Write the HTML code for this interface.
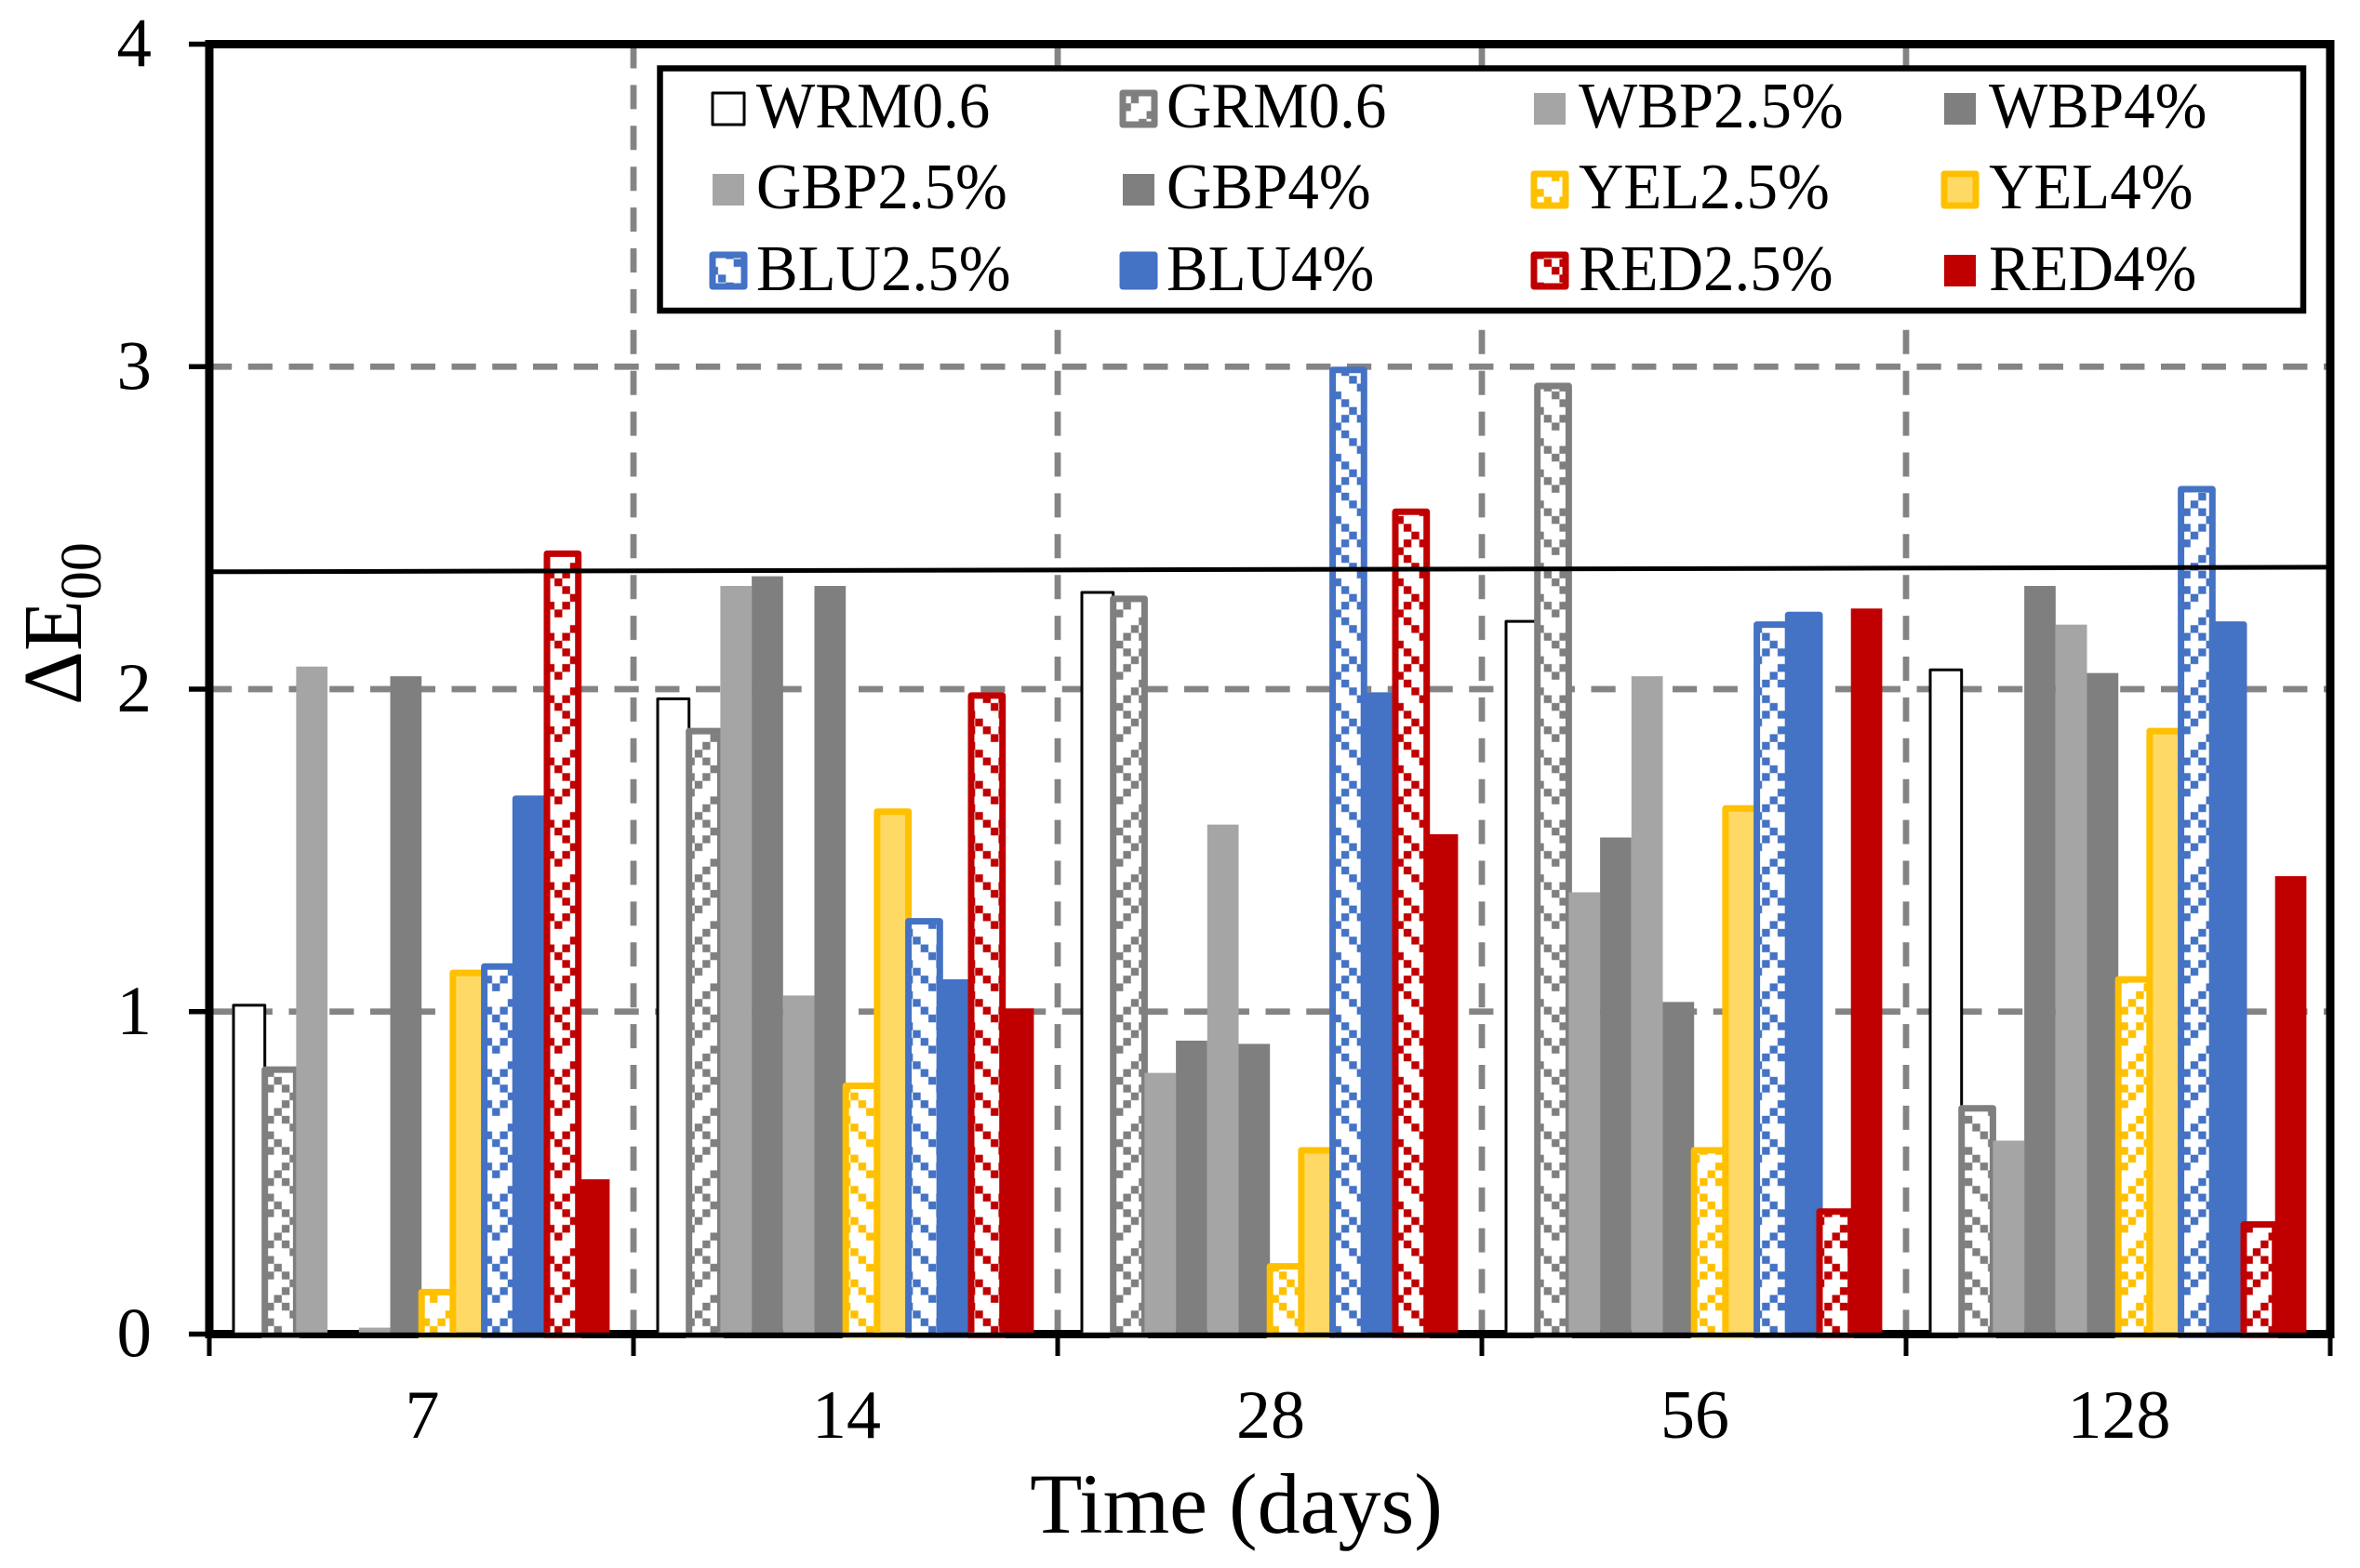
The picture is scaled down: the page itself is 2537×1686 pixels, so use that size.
<!DOCTYPE html>
<html>
<head>
<meta charset="utf-8">
<title>Delta E00 over time</title>
<style>
html,body{margin:0;padding:0;background:#fff;}
svg{display:block;position:absolute;left:0;top:0;}
text{font-family:"Liberation Serif",serif;fill:#000;}
</style>
</head>
<body>
<svg id="chart" xmlns="http://www.w3.org/2000/svg" width="2537" height="1686" viewBox="0 0 2537 1686">
<rect x="0" y="0" width="2537" height="1686" fill="#ffffff"/>
<defs id="defs"></defs>
<g id="grid"></g>
<g id="axes"></g>
<g id="bars"></g>
<g id="threshold"></g>
<g id="labels"></g>
<text x="1329" y="1648" font-size="92" text-anchor="middle">Time (days)</text>
<text transform="translate(87,758) rotate(-90)" font-size="90">ΔE<tspan font-size="62" dy="21">00</tspan></text>
<g id="legend"></g>
</svg>
<script>
// ---- chart data ----
const categories = ["7", "14", "28", "56", "128"];
const yTickLabels = [0, 1, 2, 3, 4];
const seriesNames = ["WRM0.6","GRM0.6","WBP2.5%","WBP4%","GBP2.5%","GBP4%","YEL2.5%","YEL4%","BLU2.5%","BLU4%","RED2.5%","RED4%"];
const wrm06  = [1.02, 1.97, 2.30, 2.21, 2.06];
const grm06  = [0.82, 1.87, 2.28, 2.94, 0.70];
const wbp25  = [2.07, 2.32, 0.81, 1.37, 0.60];
const wbp4   = [0.00, 2.35, 0.91, 1.54, 2.32];
const gbp25  = [0.02, 1.05, 1.58, 2.04, 2.20];
const gbp4   = [2.04, 2.32, 0.90, 1.03, 2.05];
const yel25  = [0.13, 0.77, 0.21, 0.57, 1.10];
const yel4   = [1.12, 1.62, 0.57, 1.63, 1.87];
const blu25  = [1.14, 1.28, 2.99, 2.20, 2.62];
const blu4   = [1.66, 1.09, 1.98, 2.23, 2.20];
const red25  = [2.42, 1.98, 2.55, 0.38, 0.34];
const red4   = [0.48, 1.01, 1.55, 2.25, 1.42];
const thresholdValues = [2.364, 2.378];

const seriesValues = [wrm06, grm06, wbp25, wbp4, gbp25, gbp4, yel25, yel4, blu25, blu4, red25, red4];

// ---- appearance ----
const GRAY='#7f7f7f', LIGHT='#a5a5a5', YEL='#ffc000', BLU='#4472c4', RED='#c00000';
const seriesStyles = [
  {fill:'#ffffff', stroke:'#000000', sw:3},
  {hatch:GRAY, stroke:GRAY, sw:7},
  {fill:LIGHT},
  {fill:GRAY},
  {fill:LIGHT},
  {fill:GRAY},
  {hatch:YEL, stroke:YEL, sw:7},
  {fill:'#ffd966', stroke:YEL, sw:7},
  {hatch:BLU, stroke:BLU, sw:7},
  {fill:BLU, stroke:BLU, sw:7},
  {hatch:RED, stroke:RED, sw:7},
  {fill:RED}
];
const tileRows = [".#.#....","#...#...",".#...#.#","..#...#.",".#.#...#","#...#...","...#.#.#","..#...#."];

// ---- axis functions ----
const plotLeft=225, plotRight=2505, plotTop=47.5, plotBottom=1434.5;
const yMax=4;
const catWidth=(plotRight-plotLeft)/categories.length;
const barWidth=33.7, groupPad=26;
function yScale(v){ return plotBottom-(v/yMax)*(plotBottom-plotTop); }
function xBar(catIdx, serIdx){ return plotLeft+catIdx*catWidth+groupPad+serIdx*barWidth; }
function xCat(catIdx){ return plotLeft+catIdx*catWidth; }

const NS='http://www.w3.org/2000/svg';
function mk(tag, attrs, parent){
  const el=document.createElementNS(NS,tag);
  for(const k in attrs) el.setAttribute(k,attrs[k]);
  parent.appendChild(el);
  return el;
}

// ---- hatch patterns ----
const defs=document.getElementById('defs');
const cell=8.375;
[GRAY,YEL,BLU,RED].forEach(color=>{
  const p=mk('pattern',{id:'hatch'+color.slice(1),patternUnits:'userSpaceOnUse',width:cell*8,height:cell*8,
    patternTransform:'translate(2287.8,1266.8)'},defs);
  mk('rect',{x:0,y:0,width:cell*8,height:cell*8,fill:'#ffffff'},p);
  tileRows.forEach((row,r)=>{
    for(let c=0;c<8;c++){
      if(row[c]==='#') mk('rect',{x:c*cell,y:r*cell,width:cell,height:cell,fill:color},p);
    }
  });
});
const clip=mk('clipPath',{id:'barClip'},defs);
mk('rect',{x:0,y:0,width:2537,height:plotBottom-1.8},clip);

function fillOf(st){ return st.hatch ? 'url(#hatch'+st.hatch.slice(1)+')' : st.fill; }

// ---- grid ----
const grid=document.getElementById('grid');
yTickLabels.forEach(t=>{
  if(t===0||t===yMax) return;
  const y=yScale(t);
  const l=mk('line',{x1:223,x2:plotRight,y1:y,y2:y,stroke:'#848484','stroke-width':6.8,'stroke-dasharray':'26.2 17.55'},grid);
  
  
});
for(let i=1;i<categories.length;i++){
  const x=xCat(i);
  const l=mk('line',{x1:x,x2:x,y1:plotTop,y2:plotBottom,stroke:'#848484','stroke-width':6.8,'stroke-dasharray':'26 17.9'},grid);
  
  
}

// ---- axes ----
const axes=document.getElementById('axes');
const frame=mk('rect',{x:plotLeft,y:plotTop,width:plotRight-plotLeft,height:plotBottom-plotTop,fill:'none',stroke:'#000','stroke-width':9},axes);


yTickLabels.forEach(t=>{
  const y=yScale(t);
  const l=mk('line',{x1:203,x2:plotLeft,y1:y,y2:y,stroke:'#000','stroke-width':5.5},axes);
  
  
});
for(let i=0;i<=categories.length;i++){
  const x=xCat(i);
  const l=mk('line',{x1:x,x2:x,y1:plotBottom,y2:1458,stroke:'#000','stroke-width':5},axes);
  
  
}

// ---- bars ----
const barsG=document.getElementById('bars');
barsG.setAttribute('clip-path','url(#barClip)');
const root=document.getElementById('chart');
const under=mk('g',{},root);


seriesValues.forEach((vals,s)=>{
  const st=seriesStyles[s];
  const g=mk('g',{},barsG);
  
  
  vals.forEach((v,c)=>{
    if(v<=0) return;
    const x=xBar(c,s), top=yScale(v);
    const r=mk('rect',{x:x,y:top,width:barWidth,height:plotBottom+6-top,fill:fillOf(st)},g);
    if(st.stroke){
      r.setAttribute('stroke',st.stroke);
      r.setAttribute('stroke-width',st.sw);
      r.setAttribute('stroke-linejoin','round');
      mk('rect',{x:x-st.sw/2,y:plotBottom+3.5,width:barWidth+st.sw,height:1,fill:st.stroke},under);
    }
    
    
  });
});

// ---- threshold ----
const thr=document.getElementById('threshold');
const tl=mk('line',{x1:plotLeft,x2:plotRight,y1:yScale(thresholdValues[0]),y2:yScale(thresholdValues[1]),stroke:'#000','stroke-width':5},thr);



// ---- tick labels ----
const labels=document.getElementById('labels');
yTickLabels.forEach(t=>{
  const tx=mk('text',{x:163,y:yScale(t)+24,'font-size':75,'text-anchor':'end'},labels);
  tx.textContent=String(t);
  
  
});
categories.forEach((c,i)=>{
  const tx=mk('text',{x:xCat(i)+catWidth/2+1,y:1546,'font-size':74,'text-anchor':'middle'},labels);
  tx.textContent=c;
  
  
});

// ---- legend ----
const legend=document.getElementById('legend');
const lbox=mk('rect',{x:709.5,y:73.5,width:1766.5,height:260.5,fill:'#ffffff',stroke:'#000','stroke-width':6.5},legend);


const swatchX=[766,1207,1649,2090], textX=[813,1254,1697,2138], swatchY=[100,187,274], baseY=[137,224,312];
seriesNames.forEach((name,i)=>{
  const col=i%4, row=Math.floor(i/4), st=seriesStyles[i];
  const g=mk('g',{},legend);
  
  
  const sw=mk('rect',{x:swatchX[col],y:swatchY[row],width:34,height:34,fill:fillOf(st)},g);
  if(st.stroke){
    sw.setAttribute('stroke',st.stroke);
    sw.setAttribute('stroke-width',st.sw);
    sw.setAttribute('stroke-linejoin','round');
  }
  const t=mk('text',{transform:'translate('+textX[col]+','+baseY[row]+') scale(1,1.05)','font-size':67},g);
  t.textContent=name;
});
</script>
</body>
</html>
